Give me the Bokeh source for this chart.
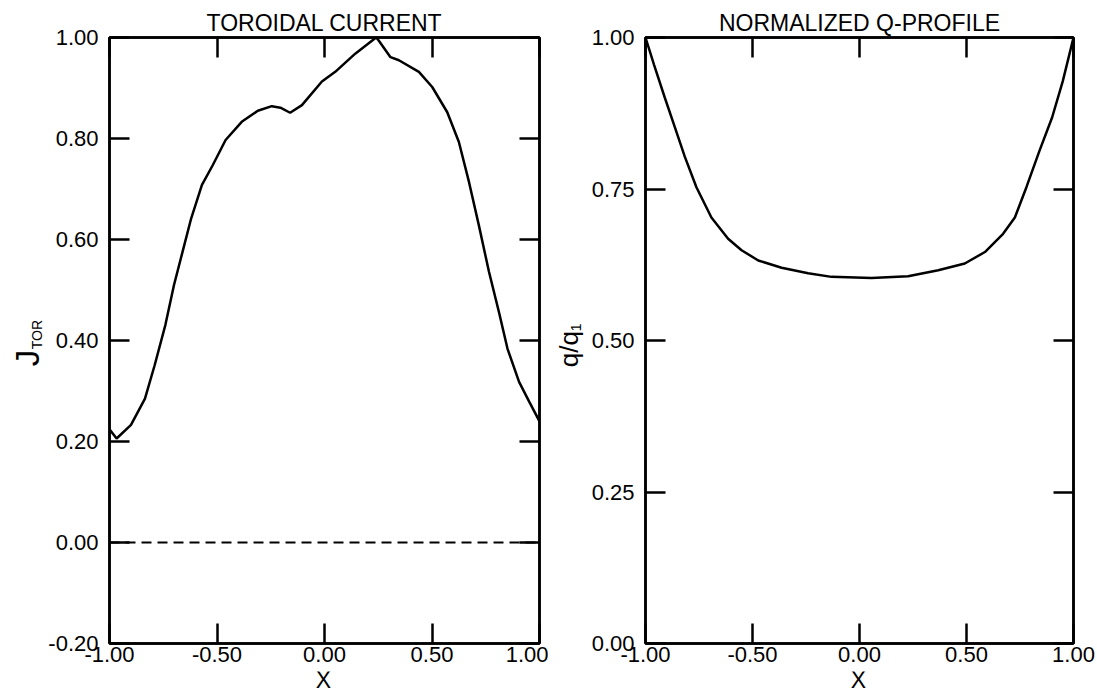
import math
from bokeh.plotting import figure
from bokeh.layouts import row, column
from bokeh.models import (LinearAxis, FixedTicker, NumeralTickFormatter,
                          CustomJSTickFormatter, Label, Range1d, Span)
from bokeh.embed import file_html
from bokeh.resources import INLINE

# ---------------- data ----------------
x_j = [-1.00, -0.967, -0.90, -0.835, -0.79, -0.74, -0.70, -0.66, -0.62, -0.57,
       -0.52, -0.46, -0.385, -0.31, -0.245, -0.205, -0.16, -0.105, -0.012, 0.05,
       0.143, 0.24, 0.252, 0.307, 0.346, 0.439, 0.501, 0.571, 0.625, 0.672,
       0.718, 0.765, 0.811, 0.851, 0.905, 0.952, 1.00]
j_tor = [0.224, 0.206, 0.233, 0.285, 0.351, 0.431, 0.510, 0.576, 0.642, 0.708,
         0.747, 0.797, 0.833, 0.855, 0.864, 0.861, 0.851, 0.866, 0.913, 0.932,
         0.968, 1.000, 0.994, 0.961, 0.955, 0.932, 0.902, 0.852, 0.793, 0.714,
         0.628, 0.536, 0.457, 0.384, 0.318, 0.279, 0.240]

x_q = [-1.00, -0.96, -0.91, -0.863, -0.816, -0.762, -0.692, -0.614, -0.551,
       -0.473, -0.364, -0.24, -0.131, 0.056, 0.227, 0.368, 0.492, 0.586, 0.671,
       0.726, 0.78, 0.84, 0.90, 0.95, 1.00]
q_norm = [1.000, 0.955, 0.901, 0.852, 0.803, 0.753, 0.703, 0.668, 0.649,
          0.632, 0.620, 0.611, 0.605, 0.603, 0.606, 0.616, 0.627, 0.646, 0.676,
          0.703, 0.753, 0.812, 0.868, 0.928, 1.000]

x_ticks = [-1.0, -0.5, 0.0, 0.5, 1.0]
j_ticks = [-0.2, 0.0, 0.2, 0.4, 0.6, 0.8, 1.0]
q_ticks = [0.0, 0.25, 0.5, 0.75, 1.0]
j_range = (-0.2, 1.0)
q_range = (0.0, 1.0)
zero_level = 0.0
titles = ["TOROIDAL CURRENT", "NORMALIZED Q-PROFILE"]
x_label = "X"

# ---------------- layout / styling ----------------
FONT = "Liberation Sans"
W_TOTAL, H_TOTAL = 1097, 688
FRAME_H = 606
TOP = 37
BOTTOM = 28
ROW_H = TOP + FRAME_H + BOTTOM          # 671
STRIP_H = H_TOTAL - ROW_H               # 17
LW = 2.5

LAB_J_W = 45
P1_BL, P1_FW, P1_BR = 63, 430, 9
P2_BL, P2_FW = 60, 428
LAB_Q_W = 644 - P2_BL - (LAB_J_W + P1_BL + P1_FW + P1_BR)
P2_BR = W_TOTAL - (LAB_J_W + P1_BL + P1_FW + P1_BR + LAB_Q_W + P2_BL + P2_FW)
Q_STRIP_X0 = LAB_J_W + P1_BL + P1_FW + P1_BR


def style_axis(ax, ticks, show_labels):
    ax.ticker = FixedTicker(ticks=ticks)
    ax.axis_line_width = LW
    ax.axis_line_color = "black"
    ax.major_tick_in = 20
    ax.major_tick_out = 0
    ax.major_tick_line_width = LW
    ax.major_tick_line_color = "black"
    ax.minor_tick_line_color = None
    if show_labels:
        ax.formatter = NumeralTickFormatter(format="0.00")
        ax.major_label_text_font = FONT
        ax.major_label_text_font_size = "22px"
        ax.major_label_text_color = "black"
    else:
        ax.formatter = CustomJSTickFormatter(code="return ''")
        ax.major_label_text_font_size = "1px"
        ax.major_label_standoff = 0


def make_panel(title, yr, yticks, fw, bl, br):
    p = figure(frame_width=fw, frame_height=FRAME_H,
               x_range=Range1d(-1.0, 1.0), y_range=Range1d(*yr),
               output_backend="svg", toolbar_location=None,
               min_border_left=bl, min_border_right=br,
               min_border_top=TOP, min_border_bottom=BOTTOM,
               title=title, background_fill_color="white",
               border_fill_color="white")
    p.grid.visible = False
    p.outline_line_color = "black"
    p.outline_line_width = LW
    p.title.text_font = FONT
    p.title.text_font_size = "23px"
    p.title.text_font_style = "normal"
    p.title.text_color = "black"
    p.title.align = "center"
    p.title.standoff = 3
    style_axis(p.xaxis[0], x_ticks, True)
    p.xaxis[0].major_label_standoff = 3
    style_axis(p.yaxis[0], yticks, True)
    p.yaxis[0].major_label_standoff = 11
    top_ax = LinearAxis()
    style_axis(top_ax, x_ticks, False)
    p.add_layout(top_ax, "above")
    right_ax = LinearAxis()
    style_axis(right_ax, yticks, False)
    p.add_layout(right_ax, "right")
    return p


def text_strip(w, h):
    """blank figure whose data coords equal its pixels (y downward)"""
    f = figure(width=w, height=h, x_range=Range1d(0, w), y_range=Range1d(h, 0),
               output_backend="svg", toolbar_location=None,
               x_axis_location=None, y_axis_location=None,
               min_border=0, border_fill_color="white",
               background_fill_color="white")
    f.outline_line_color = None
    f.grid.visible = False
    return f


def vlabel(fig, x, y, text, size):
    fig.add_layout(Label(x=x, y=y, text=text, angle=math.pi / 2,
                         text_font=FONT, text_font_size=size,
                         text_color="black", text_align="center",
                         text_baseline="middle"))


# ---------------- left panel ----------------
p1 = make_panel(titles[0], j_range, j_ticks, P1_FW, P1_BL, P1_BR)
p1.line(x_j, j_tor, line_color="black", line_width=LW)
p1.add_layout(Span(location=zero_level, dimension="width", line_color="black",
                   line_width=2, line_dash="10 6"))

# y-axis label J_TOR (rotated, with subscript)
lab_j = text_strip(LAB_J_W, ROW_H)
vlabel(lab_j, 27, 355, "J", "33px")
vlabel(lab_j, 36, 329, "TOR", "14px")

# ---------------- right panel ----------------
p2 = make_panel(titles[1], q_range, q_ticks, P2_FW, P2_BL, P2_BR)
p2.line(x_q, q_norm, line_color="black", line_width=LW)

lab_q = text_strip(LAB_Q_W, ROW_H)
vlabel(lab_q, 567 - Q_STRIP_X0, 345, "q/q", "26px")
vlabel(lab_q, 574 - Q_STRIP_X0, 321, "1", "14px")

# ---------------- x-axis titles (strip under the panels) ----------------
strip = text_strip(W_TOTAL, STRIP_H)
x1_center = LAB_J_W + P1_BL + P1_FW / 2
x2_center = Q_STRIP_X0 + LAB_Q_W + P2_BL + P2_FW / 2
for xc in (x1_center, x2_center):
    strip.add_layout(Label(x=xc, y=679 - ROW_H, text=x_label, text_font=FONT,
                           text_font_size="23px", text_color="black",
                           text_align="center", text_baseline="middle"))

layout = column(row(lab_j, p1, lab_q, p2, spacing=0), strip, spacing=0)
open("out.html", "w").write(file_html(layout, INLINE))
